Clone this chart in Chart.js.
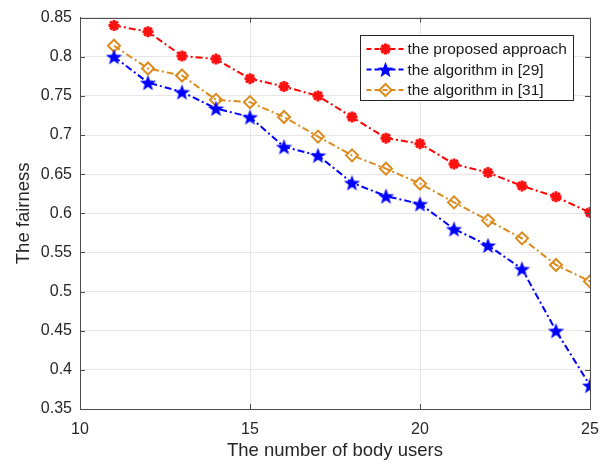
<!DOCTYPE html>
<html>
<head>
<meta charset="utf-8">
<script src="https://cdn.jsdelivr.net/npm/chart.js@4"></script>
<style>
  html, body { margin: 0; padding: 0; background: #fff; }
  #wrap { width: 608px; height: 463px; }
</style>
</head>
<body>
<div id="wrap"><canvas id="myChart" width="608" height="463"></canvas></div>
<script>
// number of body users
const users = [11, 12, 13, 14, 15, 16, 17, 18, 19, 20, 21, 22, 23, 24, 25];

// fairness values
const proposed = [0.840, 0.832, 0.801, 0.797, 0.772, 0.762, 0.750, 0.723, 0.696, 0.689, 0.663, 0.652, 0.635, 0.621, 0.601];
const alg29 = [0.800, 0.767, 0.755, 0.734, 0.723, 0.685, 0.674, 0.639, 0.622, 0.612, 0.580, 0.559, 0.529, 0.450, 0.380];
const alg31 = [0.814, 0.785, 0.776, 0.745, 0.742, 0.723, 0.698, 0.674, 0.657, 0.638, 0.614, 0.591, 0.568, 0.534, 0.513];

const seriesNames = ['the proposed approach', 'the algorithm in [29]', 'the algorithm in [31]'];

const FONT = '"Liberation Sans", Arial, Helvetica, sans-serif';

// filled five-point star marker (MATLAB pentagram)
function makePentagram(color, size) {
  const c = document.createElement('canvas');
  c.width = size; c.height = size;
  const g = c.getContext('2d');
  const cx = size / 2, cy = size / 2 + 0.8;
  const R = size / 2, r = R * 0.42;
  g.beginPath();
  for (let i = 0; i < 10; i++) {
    const rad = i % 2 === 0 ? R : r;
    const a = -Math.PI / 2 + i * Math.PI / 5;
    g.lineTo(cx + rad * Math.cos(a), cy + rad * Math.sin(a));
  }
  g.closePath();
  g.fillStyle = color;
  g.fill();
  return c;
}
const blueStar = makePentagram('#0000ff', 17);

const toXY = vals => vals.map((v, i) => ({ x: users[i], y: v }));

const dash = [7, 3, 2, 3];

const datasets = [
  {
    label: seriesNames[0],
    data: toXY(proposed),
    borderColor: '#ff0000',
    backgroundColor: '#ff0000',
    borderWidth: 2,
    borderDash: dash,
    pointStyle: 'star',
    pointRadius: 5.5,
    pointBorderWidth: 3,
    pointBorderColor: '#ff1010'
  },
  {
    label: seriesNames[1],
    data: toXY(alg29),
    borderColor: '#0000ff',
    backgroundColor: '#0000ff',
    borderWidth: 2,
    borderDash: dash,
    pointStyle: blueStar,
    pointRadius: 8
  },
  {
    label: seriesNames[2],
    data: toXY(alg31),
    borderColor: '#dc8c1e',
    backgroundColor: 'rgba(0,0,0,0)',
    borderWidth: 2,
    borderDash: dash,
    pointStyle: 'rectRot',
    pointRadius: 6,
    pointBorderWidth: 2
  }
];

// box around the axes, inward ticks, and a MATLAB-like legend
const matlabBox = {
  id: 'matlabBox',
  afterDatasetsDraw(chart) {
    const { ctx, chartArea: a, scales } = chart;
    ctx.save();
    ctx.setLineDash([]);
    ctx.strokeStyle = '#4d4d4d';
    ctx.lineWidth = 1;
    // inward ticks on all four sides
    ctx.beginPath();
    scales.x.ticks.forEach(t => {
      const px = Math.round(scales.x.getPixelForValue(t.value)) + 0.5;
      ctx.moveTo(px, a.bottom); ctx.lineTo(px, a.bottom - 5);
      ctx.moveTo(px, a.top); ctx.lineTo(px, a.top + 5);
    });
    scales.y.ticks.forEach(t => {
      const py = Math.round(scales.y.getPixelForValue(t.value)) + 0.5;
      ctx.moveTo(a.left, py); ctx.lineTo(a.left + 5, py);
      ctx.moveTo(a.right, py); ctx.lineTo(a.right - 5, py);
    });
    ctx.stroke();
    ctx.strokeRect(Math.round(a.left) + 0.5, Math.round(a.top) + 0.5,
      Math.round(a.right - a.left), Math.round(a.bottom - a.top));

    // legend
    const bw = 213, bh = 65;
    const bx = Math.round(a.right - 17 - bw) + 0.5, by = Math.round(a.top + 17) + 0.5;
    ctx.fillStyle = '#fff';
    ctx.fillRect(bx, by, bw, bh);
    ctx.strokeStyle = '#262626';
    ctx.strokeRect(bx, by, bw, bh);
    ctx.font = '15.5px ' + FONT;
    ctx.textBaseline = 'middle';
    chart.data.datasets.forEach((ds, i) => {
      const y = by + 13.5 + i * 20.5;
      ctx.strokeStyle = ds.borderColor;
      ctx.lineWidth = 2;
      ctx.setLineDash([5, 3, 5, 3]);
      ctx.beginPath();
      ctx.moveTo(bx + 6, y); ctx.lineTo(bx + 44, y);
      ctx.stroke();
      ctx.setLineDash([]);
      ctx.fillStyle = ds.backgroundColor;
      ctx.strokeStyle = ds.pointBorderColor || ds.borderColor;
      ctx.lineWidth = ds.pointBorderWidth || 1;
      Chart.helpers.drawPoint(ctx, {
        pointStyle: ds.pointStyle,
        rotation: 0,
        radius: ds.pointRadius,
        borderWidth: ds.pointBorderWidth || 1
      }, bx + 25, y);
      ctx.fillStyle = '#1a1a1a';
      ctx.fillText(ds.label, bx + 47, y + 1);
    });
    ctx.restore();
  }
};

const ctx = document.getElementById('myChart');
new Chart(ctx, {
  type: 'line',
  data: { datasets },
  plugins: [matlabBox],
  options: {
    responsive: false,
    animation: false,
    layout: { padding: { top: 16, right: 18, left: 0, bottom: 0 } },
    plugins: { legend: { display: false }, tooltip: { enabled: false } },
    scales: {
      x: {
        type: 'linear',
        min: 10,
        max: 25,
        ticks: { stepSize: 5, color: '#262626', font: { family: FONT, size: 16 }, padding: 4, maxRotation: 0 },
        grid: { color: '#e6e6e6', drawTicks: true, tickLength: 7, tickColor: 'rgba(0,0,0,0)' },
        border: { color: '#4d4d4d' },
        title: { display: true, text: 'The number of body users', color: '#262626', font: { family: FONT, size: 18.5 }, padding: { top: 0, bottom: 1 } },
        afterFit(scale) { scale.height = 54; }
      },
      y: {
        min: 0.35,
        max: 0.85,
        ticks: {
          stepSize: 0.05,
          color: '#262626',
          font: { family: FONT, size: 16 },
          padding: 8,
          callback: v => String(+v.toFixed(2))
        },
        grid: { color: '#e6e6e6', drawTicks: false },
        border: { color: '#4d4d4d' },
        title: { display: true, text: 'The fairness', color: '#262626', font: { family: FONT, size: 18.5 }, padding: { bottom: 0, top: 13 } },
        afterFit(scale) { scale.width = 80; }
      }
    }
  }
});
</script>
</body>
</html>
